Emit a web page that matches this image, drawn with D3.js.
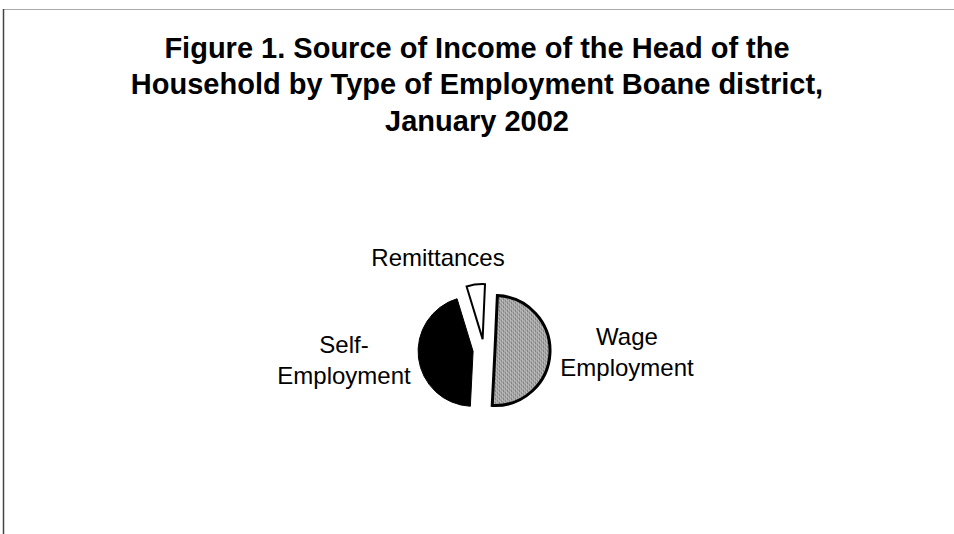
<!DOCTYPE html>
<html>
<head>
<meta charset="utf-8">
<script src="https://cdn.jsdelivr.net/npm/d3@7"></script>
<style>
  html, body { margin: 0; padding: 0; background: #fff; }
  svg { display: block; }
  text { font-family: "Liberation Sans", Arial, sans-serif; fill: #000; }
</style>
</head>
<body>
<svg id="chart" width="954" height="534"></svg>
<script>
// ---- Data ----
const categories = ["Wage Employment", "Self-Employment", "Remittances"];
const values = [50.1, 44.5, 5.4];   // percent of heads of household
const labelLines = [["Wage", "Employment"], ["Self-", "Employment"], ["Remittances"]];
const titleLines = [
  "Figure 1. Source of Income of the Head of the",
  "Household by Type of Employment Boane district,",
  "January 2002"
];

// ---- Layout / style ----
const W = 954, H = 534;
const cx = 484, cy = 350, R = 55, explode = 11;
const startDeg = 2.5;
const labelPos = [ {x: 627, y: 345}, {x: 344, y: 353}, {x: 438, y: 266} ]; // first-line baseline, centre x
const lineGap = 31;
const titleBaselines = [58, 94, 131];

const svg = d3.select("#chart");

// frame lines
svg.append("line").attr("x1", 3).attr("x2", W).attr("y1", 9.5).attr("y2", 9.5)
  .attr("stroke", "#aaa").attr("stroke-width", 1.2);
svg.append("line").attr("x1", 3.5).attr("x2", 3.5).attr("y1", 9).attr("y2", H)
  .attr("stroke", "#444").attr("stroke-width", 1.5);

// texture pattern for wage slice
const defs = svg.append("defs");
const pat = defs.append("pattern").attr("id", "grain").attr("patternUnits", "userSpaceOnUse")
  .attr("width", 4).attr("height", 4);
pat.append("rect").attr("width", 4).attr("height", 4).attr("fill", "#a6a6a6");
pat.append("rect").attr("x", 0).attr("y", 0).attr("width", 1).attr("height", 1).attr("fill", "#5e5e5e");
pat.append("rect").attr("x", 2).attr("y", 2).attr("width", 1).attr("height", 1).attr("fill", "#707070");
pat.append("rect").attr("x", 3).attr("y", 1).attr("width", 1).attr("height", 1).attr("fill", "#d4d4d4");
pat.append("rect").attr("x", 1).attr("y", 3).attr("width", 1).attr("height", 1).attr("fill", "#cccccc");

// title
svg.append("g").selectAll("text").data(titleLines).join("text")
  .attr("x", 477).attr("y", (d, i) => titleBaselines[i])
  .attr("text-anchor", "middle")
  .style("font-size", "29px").style("font-weight", "bold")
  .text(d => d);

// pie
const toRad = d => d * Math.PI / 180;
const pie = d3.pie().sort(null).value(d => d)
  .startAngle(toRad(startDeg)).endAngle(toRad(startDeg + 360));
const arcs = pie(values);
const arc = d3.arc().innerRadius(0).outerRadius(R);

const fills = ["url(#grain)", "#000", "#fff"];
const strokeW = [3, 1, 2];

svg.append("g").selectAll("path").data(arcs).join("path")
  .attr("transform", d => {
    const a = (d.startAngle + d.endAngle) / 2;
    return `translate(${cx + explode * Math.sin(a)},${cy - explode * Math.cos(a)})`;
  })
  .attr("d", arc)
  .attr("fill", (d, i) => fills[i])
  .attr("stroke", "#000")
  .attr("stroke-width", (d, i) => strokeW[i])
  .attr("stroke-linejoin", "miter");

// labels
const lg = svg.append("g");
categories.forEach((c, i) => {
  const t = lg.append("text")
    .attr("text-anchor", "middle")
    .style("font-size", "24px");
  labelLines[i].forEach((ln, j) => {
    t.append("tspan").attr("x", labelPos[i].x).attr("y", labelPos[i].y + j * lineGap).text(ln);
  });
});
</script>
</body>
</html>
